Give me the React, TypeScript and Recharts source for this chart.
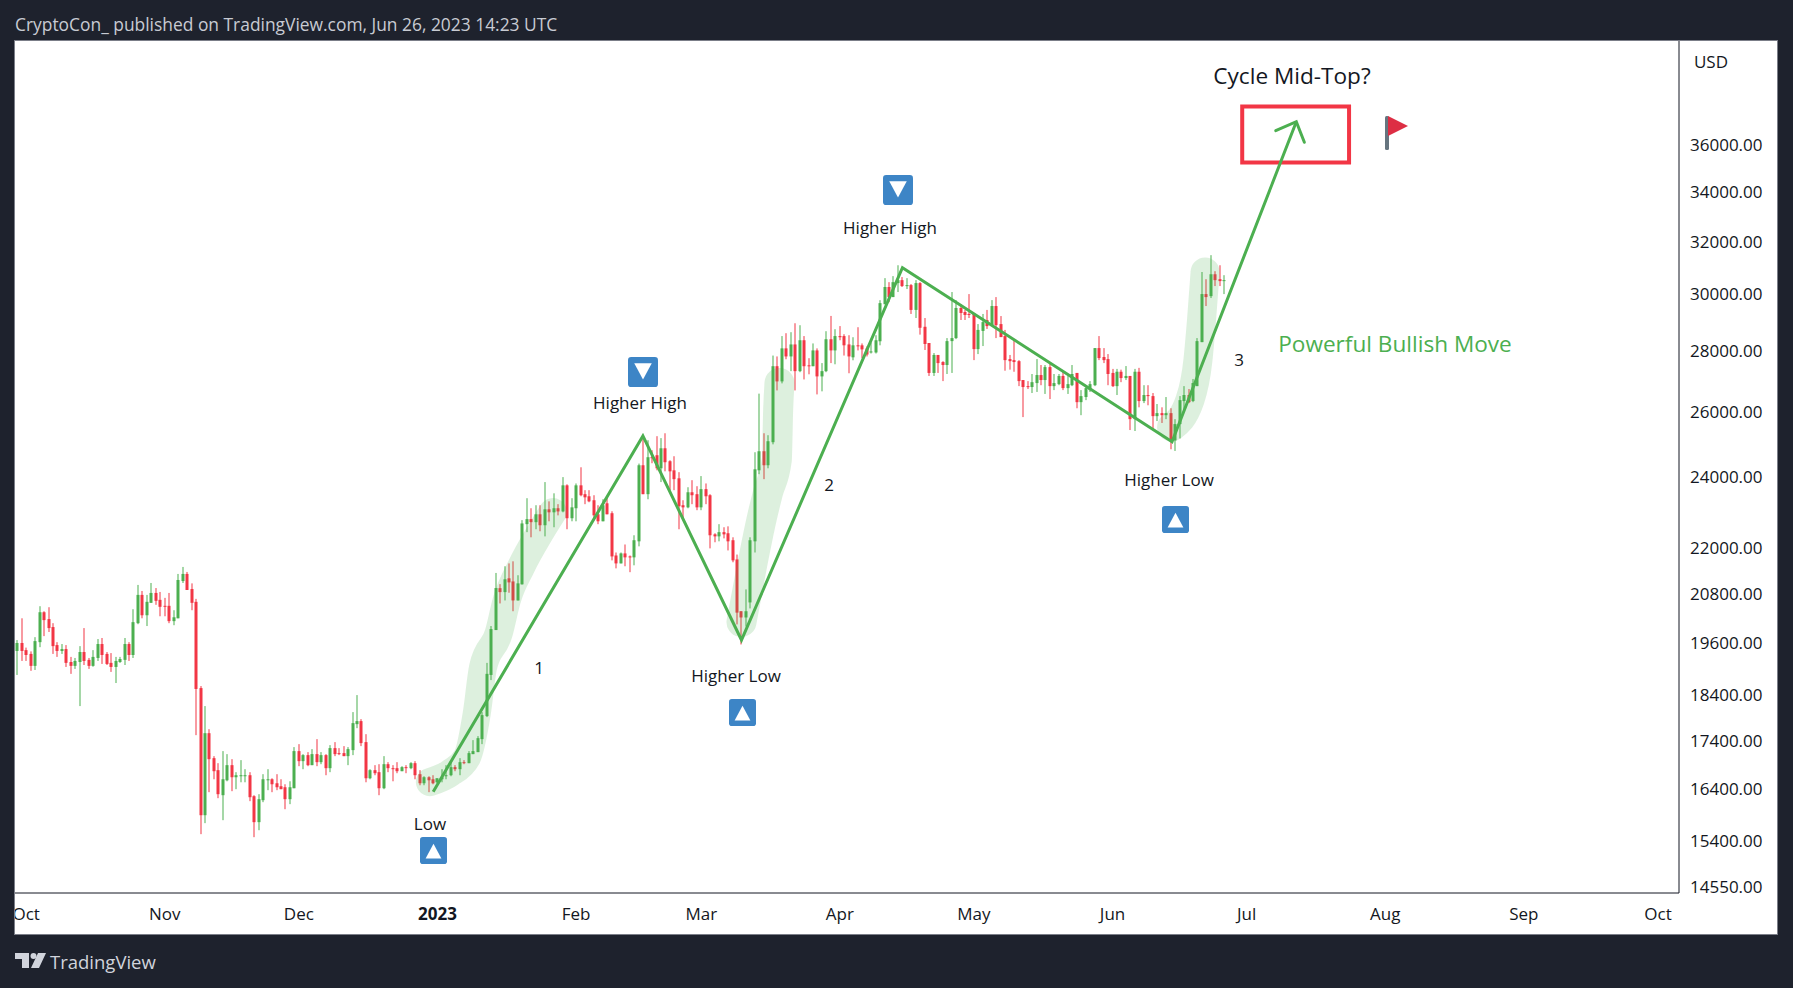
import React from "react";
import {
  Bar,
  ComposedChart,
  Line,
  ReferenceArea,
  XAxis,
  YAxis,
} from "recharts";

// BTCUSD daily candles, first one is 29 Sep 2022 (day -94, day 0 = 1 Jan 2023)
const firstDay = -94;

const opens = [
  19410,19600,19430,19340,19060,19620,20350,20180,19985,19550,
  19410,19455,19150,19060,19150,19385,19200,19060,19245,19575,
  19340,19130,19035,19150,19200,19575,19315,20080,20785,20275,
  20585,20835,20660,20510,20510,20130,20200,21140,21324,20935,
  20610,18550,15883,17556,17029,16781,16276,16575,16884,16637,
  16657,16657,16678,16256,15749,16177,16575,16596,16515,16455,
  16435,16197,16415,17176,16967,17092,16884,17113,16946,17092,
  16822,17239,17134,17134,17071,17197,17751,17817,17366,16616,
  16781,16740,16415,16904,16822,16822,16760,16843,16822,16925,
  16699,16515,16637,16596,16535,16596,16657,16678,16843,16801,
  16946,16925,17113,17155,17429,17926,18850,19912,
  20957,20856,21210,21130,20645,21055,22660,22800,22715,22935,
  22630,23075,22990,23105,23015,23760,22825,23105,23760,23505,
  23445,23332,22935,22740,23245,22965,21810,21600,21865,21785,
  21760,22190,24350,23505,24590,24650,24260,24860,24470,24200,
  23965,23190,23130,23560,23505,23130,23650,23475,22380,22325,
  22440,22410,22220,21705,20375,20220,20595,22190,24200,24770,
  24350,25045,27480,26975,28085,27810,28220,27315,28365,27510,
  27480,28015,27140,27315,28400,28015,28510,28510,28220,27780,
  28190,28190,28085,27945,27945,28330,
  29640,30270,29900,30415,30525,30305,30340,29435,30415,28835,
  28270,27255,27860,27620,27520,28335,28440,29505,29360,29290,
  29290,28060,28690,29075,28860,29575,28930,28510,27720,27685,
  27650,27020,26820,26790,26920,27185,27020,27450,26820,26885,
  27155,26755,26850,27255,26300,26465,26690,26850,28095,27790,
  27720,27255,26820,27295,27085,27155,25760,27295,26335,26530,
  26495,25855,25950,25885,25950,25100,25605,26335,26530,26335,
  26820,28300,30010,29935,30745,30560,30490,
];

const highs = [
  19670,20200,19490,19400,19740,20500,20375,20475,20080,19620,
  19575,19550,19270,19245,19525,19960,19245,19430,19695,19720,
  19385,19360,19270,19270,19720,19620,20425,21040,20885,20785,
  21090,20960,20860,20710,20835,20400,21324,21507,21376,21080,
  20685,18596,18147,17642,17071,16925,17176,17113,17008,16740,
  16988,16801,16740,16276,16296,16699,16801,16616,16699,16596,
  16495,16555,17260,17323,17113,17155,17218,17429,17155,17113,
  17302,17366,17239,17281,17260,18014,18392,17860,17535,16801,
  16884,16904,17071,16946,16884,16946,16863,16884,16946,16967,
  16781,16657,16657,16678,16616,16801,16884,16988,16884,17029,
  16988,17176,17408,17493,18014,19130,20010,21350,
  21060,21525,21600,21655,21290,22772,23390,23105,23190,23190,
  23855,23300,23530,23220,24000,23790,23390,23815,24290,23620,
  23620,23475,23190,23360,23445,23020,21890,21890,22105,21810,
  22355,24400,25260,25105,24800,25230,25170,25320,24500,24620,
  24145,23332,23705,23910,23735,24030,23815,23505,22410,22660,
  22575,22600,22300,21835,20375,20925,22300,24740,26575,25320,
  25260,27840,27810,28510,28610,28645,28960,28890,28510,27750,
  28255,28085,27585,28680,29220,28750,28860,28575,28540,28470,
  28820,28255,28155,28290,28540,29787,
  30600,30450,30675,31085,30640,30600,30380,30525,30450,29145,
  28270,27925,27860,27650,28440,30085,29790,29640,29435,30010,
  29325,28930,29290,29435,29790,29900,29215,28725,27860,28370,
  27685,27020,26985,27220,27720,27520,27520,27555,27220,27220,
  27330,27155,27520,27255,26690,26850,26985,28095,28510,28095,
  27890,27390,27390,27365,27485,27155,27390,27425,26850,26850,
  26595,26240,26135,26465,26105,25760,26495,26820,26725,27055,
  28440,30830,30560,31470,30860,31085,30710,
];

const lows = [
  18850,19175,19175,18945,18965,19500,19765,19865,19340,19270,
  19340,19035,18875,18990,18147,19080,18990,19040,19175,19105,
  19080,18920,18665,19130,19080,19175,19245,20055,20200,20010,
  20585,20535,20250,20250,20080,20030,20200,21090,20910,20400,
  17514,15520,15730,16336,16596,16217,15787,16555,16356,16396,
  16535,16535,16158,15463,15595,16138,16376,16336,16376,16396,
  16000,16099,16415,16863,16801,16863,16884,16863,16904,16678,
  16740,17071,17092,17071,16884,17092,17664,17281,16535,16596,
  16678,16276,16396,16740,16555,16719,16760,16719,16801,16596,
  16475,16475,16336,16495,16515,16535,16596,16657,16760,16678,
  16904,16925,17113,17155,17323,17904,18732,19912,
  20570,20645,20840,20375,20645,21050,22440,22300,22520,22465,
  22325,22740,22575,22905,22990,22520,22740,22740,23445,23220,
  23275,22770,22660,22740,22935,21680,21470,21600,21525,21370,
  21550,22055,23505,23360,24410,24200,23855,24170,23620,23620,
  22520,22770,23105,23220,23050,23050,23220,22000,22165,22190,
  22270,21945,21630,20050,19565,20000,20445,21890,24085,23940,
  24260,24980,26680,26910,27715,27315,26680,27280,27040,27210,
  27480,26550,26650,27280,27585,27545,28365,27840,27245,27680,
  28015,27750,27810,27910,27910,28190,
  29640,29715,29900,30085,30270,30195,29290,29145,28560,28030,
  27155,27155,27255,26985,27220,27255,28405,29075,29075,29145,
  27685,27890,28165,28760,28895,28440,28475,27330,27365,27295,
  26820,25825,26725,26595,26630,26850,26565,26400,26690,26850,
  26690,26565,26820,26105,25885,26365,26630,26820,27685,27585,
  26850,26790,26530,26950,27020,25420,25390,26135,26270,26200,
  25420,25700,25640,25760,24830,24780,25160,26040,26270,26300,
  26820,28300,29575,29865,30305,30305,30010,
];

const closes = [
  19600,19410,19315,19060,19645,20350,20155,19960,19525,19410,
  19455,19130,19060,19175,19385,19175,19060,19270,19575,19315,
  19105,19035,19175,19220,19575,19315,20105,20785,20275,20610,
  20835,20635,20485,20485,20130,20225,21167,21324,20910,20585,
  18530,15883,17556,17008,16760,16296,16596,16884,16637,16678,
  16678,16678,16236,15749,16197,16596,16596,16495,16435,16396,
  16197,16435,17176,16967,17092,16884,17113,16946,17092,16822,
  17239,17113,17113,17071,17218,17773,17817,17345,16616,16781,
  16719,16415,16904,16822,16801,16760,16843,16822,16925,16678,
  16515,16637,16575,16515,16616,16637,16678,16843,16801,16946,
  16925,17134,17176,17450,17948,18875,19935,20960,
  20856,21185,21105,20645,21080,22680,22800,22715,22935,22630,
  23075,22990,23105,23015,23760,22825,23130,23760,23475,23415,
  23300,22905,22740,23190,22935,21785,21600,21865,21760,21760,
  22220,24350,23505,24590,24560,24260,24860,24440,24170,23940,
  23160,23130,23560,23475,23130,23650,23445,22355,22325,22440,
  22380,22190,21680,20340,20220,20375,22220,24230,24770,24350,
  25075,27480,26975,28085,27810,28220,27315,28365,27480,27490,
  28015,27140,27315,28400,28015,28510,28470,28190,27810,28190,
  28155,28050,27875,27980,28365,29680,
  30270,29900,30450,30525,30305,30340,29435,30415,28800,28235,
  27255,27860,27585,27520,28335,28440,29505,29325,29255,29255,
  28060,28725,29000,28860,29575,28895,28475,27685,27650,27620,
  26985,26790,26790,26950,27185,27020,27450,26820,26920,27155,
  26755,26885,27220,26300,26495,26755,26885,28095,27755,27685,
  27220,26820,27295,27085,27155,25760,27295,26335,26530,26495,
  25855,25950,25885,25950,25100,25605,26365,26530,26300,26920,
  28335,30010,29900,30745,30525,30490,30525,
];

const monthTicks = [-92, -61, -31, 0, 31, 59, 90, 120, 151, 181, 212, 243, 273];
const monthLabels = ["Oct", "Nov", "Dec", "2023", "Feb", "Mar", "Apr", "May", "Jun", "Jul", "Aug", "Sep", "Oct"];
const priceTicks = [14550, 15400, 16400, 17400, 18400, 19600, 20800, 22000, 24000, 26000, 28000, 30000, 32000, 34000, 36000];

// drawn swing line and arrow, [day, price]
const swingLine = [[-0.96, 16345], [45.95, 25237], [68, 19671], [104, 30992], [164.3, 25060], [192.1, 37039]];
const arrowHead = [[187.5, 36634], [192.1, 37039], [193.9, 36119]];

// highlighter strokes behind the candles
const highlightOne = [[-1.7, 16538], [2.8, 16722], [6.6, 17050], [8.8, 17994], [10.2, 19033], [13.7, 19839], [15.5, 20653], [18.7, 21506], [22.9, 22417], [25.8, 22997]];
const highlightTwo = [[68, 20110], [70.3, 21506], [72.6, 22860], [73.9, 23537], [75.9, 24505], [76.2, 26050], [76.5, 26920]];
const highlightThree = [[164.2, 25515], [168.3, 26367], [170.1, 27688], [170.9, 29074], [171.7, 30826]];

const UP = "#4caf50";
const DOWN = "#f23645";
const BAND = "rgba(76,175,80,0.19)";
const FONT = "'Open Sans', sans-serif";

const candles = opens.map((open, i) => ({
  day: firstDay + i,
  open,
  close: closes[i],
  high: highs[i],
  low: lows[i],
  range: [lows[i], highs[i]],
}));

const toPoints = (rows: number[][]) => rows.map(([day, price]) => ({ day, price }));

// The bar itself spans low..high, so open and close fall on the same log scale inside it
function Candle({ x, y, width, height, payload }: any) {
  const { open, close, high, low } = payload;
  const top = Math.min(y, y + height);
  const h = Math.abs(height);
  const at = (p: number) => top + (h * Math.log(high / p)) / Math.log(high / low);
  const color = close >= open ? UP : DOWN;
  const bodyTop = at(Math.max(open, close));
  const bodyBottom = at(Math.min(open, close));
  const cx = Math.round(x + width / 2);
  return (
    <g>
      <rect x={cx - 0.5} y={top} width={1} height={h} fill={color} />
      <rect x={cx - 1.5} y={bodyTop} width={3} height={Math.max(bodyBottom - bodyTop, 1)} fill={color} />
    </g>
  );
}

function MonthTick({ x, y, payload }: any) {
  const i = monthTicks.indexOf(payload.value);
  return (
    <text x={x} y={y} dy={19} textAnchor="middle" fontSize={17} fontFamily={FONT} fontWeight={i === 3 ? 700 : 400} fill="#131722">
      {monthLabels[i]}
    </text>
  );
}

function Label({ x, y, size = 17, color = "#131722", children }: any) {
  return (
    <div style={{ position: "absolute", left: x, top: y, transform: "translate(-50%,-50%)", whiteSpace: "nowrap", fontFamily: FONT, fontSize: size, color, lineHeight: 1 }}>
      {children}
    </div>
  );
}

function Marker({ x, y, size, up }: any) {
  const points = up ? "5,19 12,6 19,19" : "5,5 19,5 12,18";
  return (
    <svg width={size} height={size} viewBox="0 0 24 24" style={{ position: "absolute", left: x - size / 2, top: y - size / 2 }}>
      <rect width={24} height={24} rx={2.5} fill="#3d85c6" />
      <polygon points={points} fill="#fff" />
    </svg>
  );
}

export default function App() {
  return (
    <div style={{ position: "absolute", left: 0, top: 0, width: 1793, height: 988, background: "#1e222d", overflow: "hidden" }}>
      <div style={{ position: "absolute", left: 15, top: 13, fontFamily: FONT, fontSize: 17.4, lineHeight: "22px", color: "#c8cbd3", whiteSpace: "nowrap" }}>
        CryptoCon_ published on TradingView.com, Jun 26, 2023 14:23 UTC
      </div>

      <div style={{ position: "absolute", left: 15, top: 41, width: 1762, height: 893, background: "#fff", outline: "1px solid #7b7e88" }}>
        <ComposedChart width={1762} height={893} data={candles} margin={{ top: 0, right: 0, bottom: 0, left: 0 }}>
          <XAxis
            dataKey="day"
            type="number"
            scale="linear"
            domain={[-94.5, 277.7]}
            allowDataOverflow
            ticks={monthTicks}
            interval={0}
            height={41}
            tick={<MonthTick />}
            tickLine={false}
            axisLine={{ stroke: "#131722" }}
          />
          <YAxis
            orientation="right"
            scale="log"
            type="number"
            domain={[14444, 40875]}
            allowDataOverflow
            ticks={priceTicks}
            interval={0}
            width={98}
            tickFormatter={(v: number) => v.toFixed(2)}
            tick={{ fontSize: 17, fontFamily: FONT, fill: "#131722" }}
            tickLine={false}
            tickMargin={5}
            axisLine={{ stroke: "#131722" }}
          />

          <Line data={toPoints(highlightOne)} dataKey="price" type="monotone" stroke={BAND} strokeWidth={28} strokeLinecap="round" strokeLinejoin="round" dot={false} isAnimationActive={false} />
          <Line data={toPoints(highlightTwo)} dataKey="price" type="monotone" stroke={BAND} strokeWidth={30} strokeLinecap="round" strokeLinejoin="round" dot={false} isAnimationActive={false} />
          <Line data={toPoints(highlightThree)} dataKey="price" type="monotone" stroke={BAND} strokeWidth={29} strokeLinecap="round" strokeLinejoin="round" dot={false} isAnimationActive={false} />

          <Bar dataKey="range" barSize={3} shape={<Candle />} isAnimationActive={false} />

          <ReferenceArea x1={180} x2={203.9} y1={35239} y2={37733} fill="none" stroke={DOWN} strokeWidth={4} />
          <Line data={toPoints(swingLine)} dataKey="price" stroke={UP} strokeWidth={3} strokeLinejoin="miter" dot={false} isAnimationActive={false} />
          <Line data={toPoints(arrowHead)} dataKey="price" stroke={UP} strokeWidth={3} strokeLinecap="round" dot={false} isAnimationActive={false} />
        </ComposedChart>
      </div>

      <Label x={1711} y={61}>USD</Label>
      <Label x={1292} y={76} size={22.6}>Cycle Mid-Top?</Label>
      <Label x={1395} y={344} size={22.6} color={UP}>Powerful Bullish Move</Label>
      <Label x={539} y={667}>1</Label>
      <Label x={829} y={484}>2</Label>
      <Label x={1239} y={359}>3</Label>
      <Label x={430} y={823}>Low</Label>
      <Label x={640} y={402}>Higher High</Label>
      <Label x={736} y={675}>Higher Low</Label>
      <Label x={890} y={227}>Higher High</Label>
      <Label x={1169} y={479}>Higher Low</Label>

      <Marker x={433.5} y={850.5} size={27} up />
      <Marker x={742} y={712} size={27} up />
      <Marker x={1175} y={519.5} size={27} up />
      <Marker x={643} y={372} size={30} up={false} />
      <Marker x={898} y={190} size={30} up={false} />

      <svg width={26} height={36} style={{ position: "absolute", left: 1384, top: 115 }}>
        <rect x={1} y={1} width={4} height={34} rx={1.5} fill="#66757f" />
        <polygon points="4,1 24,11 4,21" fill="#dd2e44" />
      </svg>

      <svg width={31} height={17} style={{ position: "absolute", left: 15, top: 952 }}>
        <path d="M0 1h14v15H7V7H0z" fill="#d1d4dc" />
        <circle cx={18.5} cy={4} r={3} fill="#d1d4dc" />
        <path d="M23 1h8l-7 15h-8z" fill="#d1d4dc" />
      </svg>
      <div style={{ position: "absolute", left: 50, top: 950, fontFamily: FONT, fontSize: 18.5, lineHeight: "24px", color: "#d1d4dc", whiteSpace: "nowrap" }}>
        TradingView
      </div>
    </div>
  );
}
